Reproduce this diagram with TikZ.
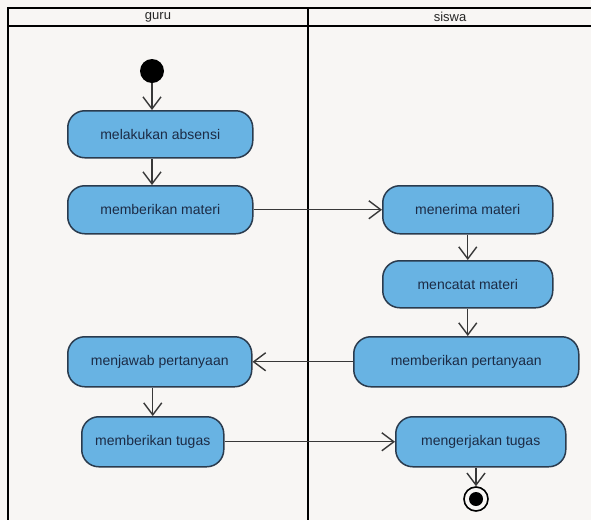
\documentclass[tikz,border=0pt]{standalone}
\usepackage{fontspec}
\setmainfont{Liberation Sans}
\usetikzlibrary{arrows.meta}
\definecolor{paper}{HTML}{F8F6F4}
\definecolor{actfill}{HTML}{68B3E3}
\definecolor{actline}{HTML}{2A3B4E}
\definecolor{acttext}{HTML}{1C2B45}
\definecolor{flow}{HTML}{383838}
\tikzset{
  activity/.style={draw=actline, line width=1.5pt, fill=actfill, rounded corners=17pt,
    text=acttext, font=\fontsize{14}{16}\selectfont, inner sep=0pt, anchor=north west},
  lane/.style={draw=black, line width=2.2pt},
  flowline/.style={draw=flow, line width=1.3pt, -{Straight Barb[length=12pt,width=18pt,line width=1.4pt]}},
  lanetitle/.style={font=\fontsize{13}{15}\selectfont, text=black!85},
}
\newcommand{\actbox}[6]{% name, x0, y0, x1, y1, text
  \node[activity, minimum width=#4pt-#2pt, minimum height=#5pt-#3pt] (#1) at (#2,#3) {#6};}
\begin{document}
\begin{tikzpicture}[x=1pt,y=-1pt]
  \fill[paper] (0,0) rectangle (591,520);
  \useasboundingbox (0,0) rectangle (591,520);

  % swimlane frame
  \draw[lane] (591,8) -- (8,8) -- (8,520);
  \draw[lane] (8,26) -- (591,26);
  \draw[lane] (308,8) -- (308,520);
  \node[lanetitle] (laneguru) at (158,17) {guru};
  \node[lanetitle] (lanesiswa) at (450,17) {siswa};

  % initial and final states
  \node[circle, fill=black, minimum size=24pt, inner sep=0pt] (start) at (152,71) {};
  \node[circle, draw=black, line width=1.6pt, fill=paper, minimum size=24pt, inner sep=0pt] (stop) at (476,499) {};
  \node[circle, fill=black, minimum size=14pt, inner sep=0pt] (stopdot) at (stop) {};

  % activities
  \actbox{absen}{67}{110}{252}{157}{melakukan absensi}
  \actbox{beri}{67}{185}{252}{233}{memberikan materi}
  \actbox{terima}{382}{185}{552}{233}{menerima materi}
  \actbox{catat}{382}{260}{552}{307}{mencatat materi}
  \actbox{tanya}{353}{336}{578}{386}{memberikan pertanyaan}
  \actbox{jawab}{67}{336}{251}{386}{menjawab pertanyaan}
  \actbox{tugas}{81}{416}{223}{466}{memberikan tugas}
  \actbox{kerja}{395}{416}{565}{466}{mengerjakan tugas}

  % control flow
  \draw[flowline] (start.south) -- (start.south |- absen.north);
  \draw[flowline] (start.south |- absen.south) -- (start.south |- beri.north);
  \draw[flowline] (beri.east) -- (beri.east -| terima.west);
  \draw[flowline] (terima.south) -- (terima.south |- catat.north);
  \draw[flowline] (catat.south) -- (catat.south |- tanya.north);
  \draw[flowline] (tanya.west) -- (tanya.west -| jawab.east);
  \draw[flowline] (tugas.north |- jawab.south) -- (tugas.north);
  \draw[flowline] (tugas.east) -- (tugas.east -| kerja.west);
  \draw[flowline] (stop.north |- kerja.south) -- (stop.north);
\end{tikzpicture}
\end{document}
